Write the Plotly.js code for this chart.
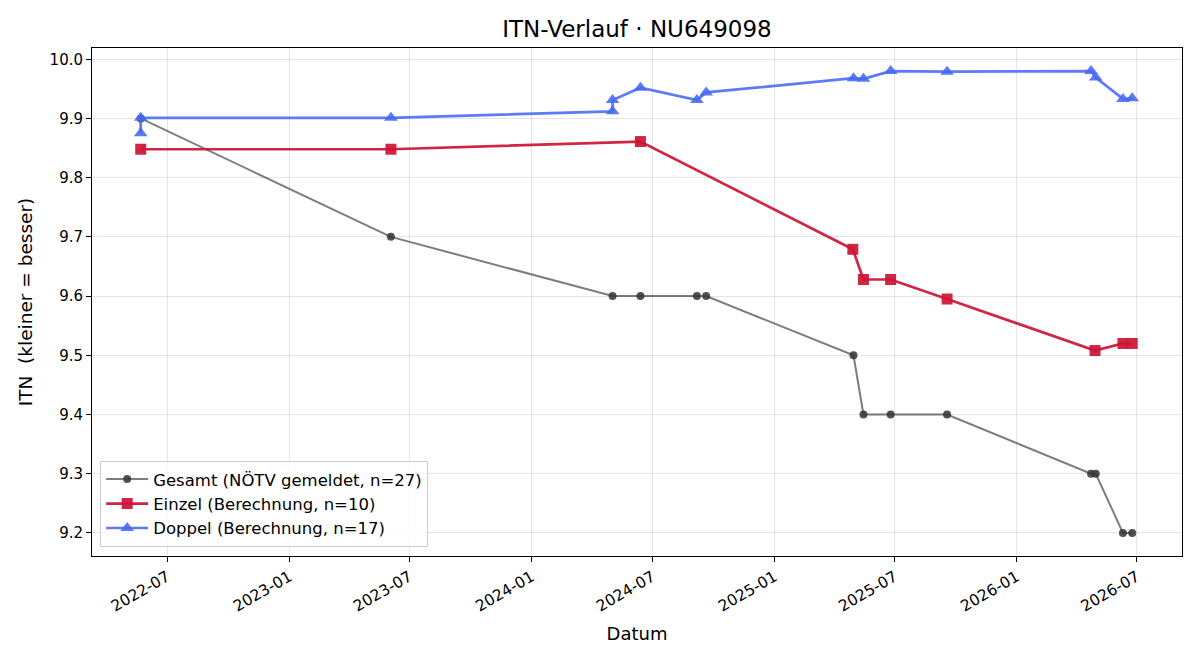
<!DOCTYPE html>
<html>
<head>
<meta charset="utf-8">
<script src="https://cdn.plot.ly/plotly-3.0.1.min.js"></script>
<style>
  html, body { margin: 0; padding: 0; background: #fff; }
  #chart { width: 1200px; height: 660px; }
</style>
</head>
<body>
<div id="chart"></div>
<script>
// ITN history for player NU649098
const gesamtDates = ['2022-05-22', '2023-06-03', '2024-05-02', '2024-06-13', '2024-09-06', '2024-09-20',
  '2025-04-30', '2025-05-15', '2025-06-25', '2025-09-18', '2026-04-23', '2026-04-30', '2026-06-10', '2026-06-24'];
const gesamtValues = [9.9, 9.7, 9.6, 9.6, 9.6, 9.6, 9.5, 9.4, 9.4, 9.4, 9.3, 9.3, 9.2, 9.2];

const einzelDates = ['2022-05-22', '2023-06-03', '2024-06-13', '2025-04-29', '2025-05-15', '2025-06-25',
  '2025-09-18', '2026-04-29', '2026-06-10', '2026-06-24'];
const einzelValues = [9.848, 9.848, 9.861, 9.679, 9.628, 9.628, 9.595, 9.508, 9.520, 9.520];

const doppelDates = ['2022-05-22', '2022-05-22', '2023-06-03', '2024-05-02', '2024-05-02', '2024-06-13',
  '2024-09-06', '2024-09-20', '2025-04-30', '2025-05-15', '2025-06-25', '2025-09-18', '2026-04-23',
  '2026-04-30', '2026-06-10', '2026-06-24'];
const doppelValues = [9.875, 9.901, 9.901, 9.912, 9.931, 9.952, 9.931, 9.944, 9.968, 9.967, 9.980,
  9.979, 9.980, 9.969, 9.933, 9.934];

const seriesNames = ['Gesamt (NÖTV gemeldet, n=27)', 'Einzel (Berechnung, n=10)', 'Doppel (Berechnung, n=17)'];
const yTicks = [9.2, 9.3, 9.4, 9.5, 9.6, 9.7, 9.8, 9.9, 10.0];

const font = 'DejaVu Sans, Verdana, sans-serif';

const traces = [
  {
    x: gesamtDates, y: gesamtValues, name: seriesNames[0], type: 'scatter', mode: 'lines+markers',
    line: { color: 'rgba(64,64,64,0.68)', width: 2 },
    marker: { symbol: 'circle', size: 8, color: 'rgba(50,50,50,0.85)' }
  },
  {
    x: einzelDates, y: einzelValues, name: seriesNames[1], type: 'scatter', mode: 'lines+markers',
    line: { color: 'rgba(204,20,52,0.92)', width: 2.7 },
    marker: { symbol: 'square', size: 11, color: 'rgba(204,20,52,0.92)' }
  },
  {
    x: doppelDates, y: doppelValues, name: seriesNames[2], type: 'scatter', mode: 'lines+markers',
    line: { color: 'rgba(70,105,242,0.88)', width: 2.7 },
    marker: { symbol: 'triangle-up', size: 12, color: 'rgba(70,105,242,0.88)' }
  }
];

const layout = {
  width: 1200, height: 660,
  margin: { l: 92, r: 18, t: 48, b: 104 },
  paper_bgcolor: '#fff', plot_bgcolor: '#fff',
  font: { family: font, size: 15, color: '#000' },
  title: { text: 'ITN-Verlauf · NU649098', x: 0.5, xref: 'paper', y: 0.956, yanchor: 'middle',
           font: { family: font, size: 23, color: '#000' } },
  showlegend: true,
  legend: {
    x: 0.0075, y: 0.018, xanchor: 'left', yanchor: 'bottom',
    bgcolor: 'rgba(255,255,255,0.8)', bordercolor: '#cccccc', borderwidth: 1,
    font: { family: font, size: 16.5, color: '#000' }, itemwidth: 42
  },
  xaxis: {
    type: 'date',
    range: ['2022-03-09 14:00', '2026-09-07'],
    tick0: '2022-01-01', dtick: 'M6', tickformat: '%Y-%m', tickangle: -30,
    ticks: 'outside', ticklen: 5, tickwidth: 1, tickcolor: '#000',
    showgrid: true, gridcolor: 'rgba(0,0,0,0.1)', gridwidth: 1,
    showline: true, linecolor: '#000', linewidth: 1, mirror: true,
    zeroline: false,
    tickfont: { family: font, size: 15.5, color: '#000' },
    title: { text: 'Datum', font: { family: font, size: 18, color: '#000' }, standoff: 12 }
  },
  yaxis: {
    range: [9.161, 10.019],
    tickvals: yTicks, tickformat: '.1f',
    ticks: 'outside', ticklen: 5, tickwidth: 1, tickcolor: '#000',
    showgrid: true, gridcolor: 'rgba(0,0,0,0.1)', gridwidth: 1,
    showline: true, linecolor: '#000', linewidth: 1, mirror: true,
    zeroline: false,
    tickfont: { family: font, size: 15, color: '#000' },
    title: { text: 'ITN  (kleiner = besser)', font: { family: font, size: 18.5, color: '#000' }, standoff: 12 }
  }
};

Plotly.newPlot('chart', traces, layout, { displayModeBar: false, staticPlot: true });
</script>
</body>
</html>
